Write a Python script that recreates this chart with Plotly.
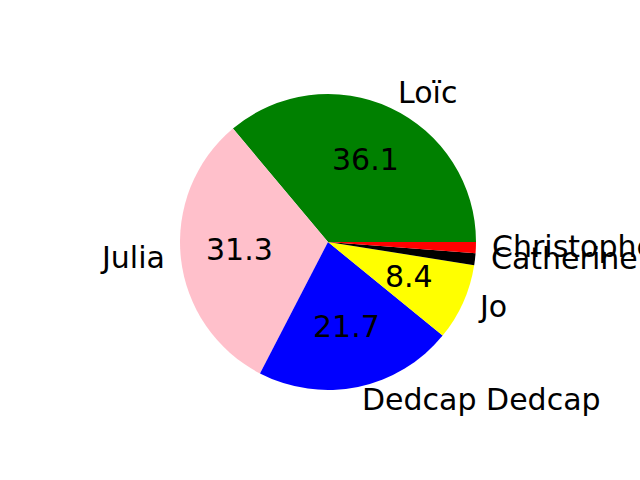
import math
import plotly.graph_objects as go

labels = ["Loïc", "Julia", "Dedcap Dedcap", "Jo", "Catherine", "Christophe"]
values = [36.1, 31.3, 21.7, 8.4, 1.3, 1.2]
colors = ["green", "pink", "blue", "yellow", "black", "red"]

W, H = 640, 480
cx, cy, R = 328, 242, 148
FONT = dict(family="DejaVu Sans", size=30, color="black")

total = sum(values)
# plotly's counterclockwise pies end the first slice at `rotation`; shift so it starts at 3 o'clock
rot = 90 - 360 * values[0] / total

fig = go.Figure(go.Pie(
    labels=labels, values=values, sort=False, direction="counterclockwise",
    rotation=rot, marker=dict(colors=colors, line=dict(width=0)),
    textinfo="none", hoverinfo="skip", showlegend=False,
    domain=dict(x=[(cx - R) / W, (cx + R) / W], y=[1 - (cy + R) / H, 1 - (cy - R) / H]),
))

ann = []
start = 0.0
for lab, v in zip(labels, values):
    frac = v / total
    mid = (start + frac / 2) * 2 * math.pi
    start += frac
    c, s = math.cos(mid), math.sin(mid)
    lx, ly = cx + 1.1 * R * c, cy - 1.1 * R * s
    ann.append(dict(x=lx / W, y=1 - ly / H, xref="paper", yref="paper", text=lab,
                    showarrow=False, xanchor="left" if c > 0 else "right",
                    yanchor="middle", font=FONT, borderpad=0, yshift=2))
    if v > 5:
        px, py = cx + 0.6 * R * c, cy - 0.6 * R * s
        ann.append(dict(x=px / W, y=1 - py / H, xref="paper", yref="paper",
                        text=f"{v:.1f}", showarrow=False, xanchor="center",
                        yanchor="middle", font=FONT, borderpad=0, yshift=2))

fig.update_layout(width=W, height=H, margin=dict(l=0, r=0, t=0, b=0),
                  paper_bgcolor="white", plot_bgcolor="white", annotations=ann)
fig.write_html("out.html", config={"displayModeBar": False},
               post_script="document.body.style.margin='0px';")
